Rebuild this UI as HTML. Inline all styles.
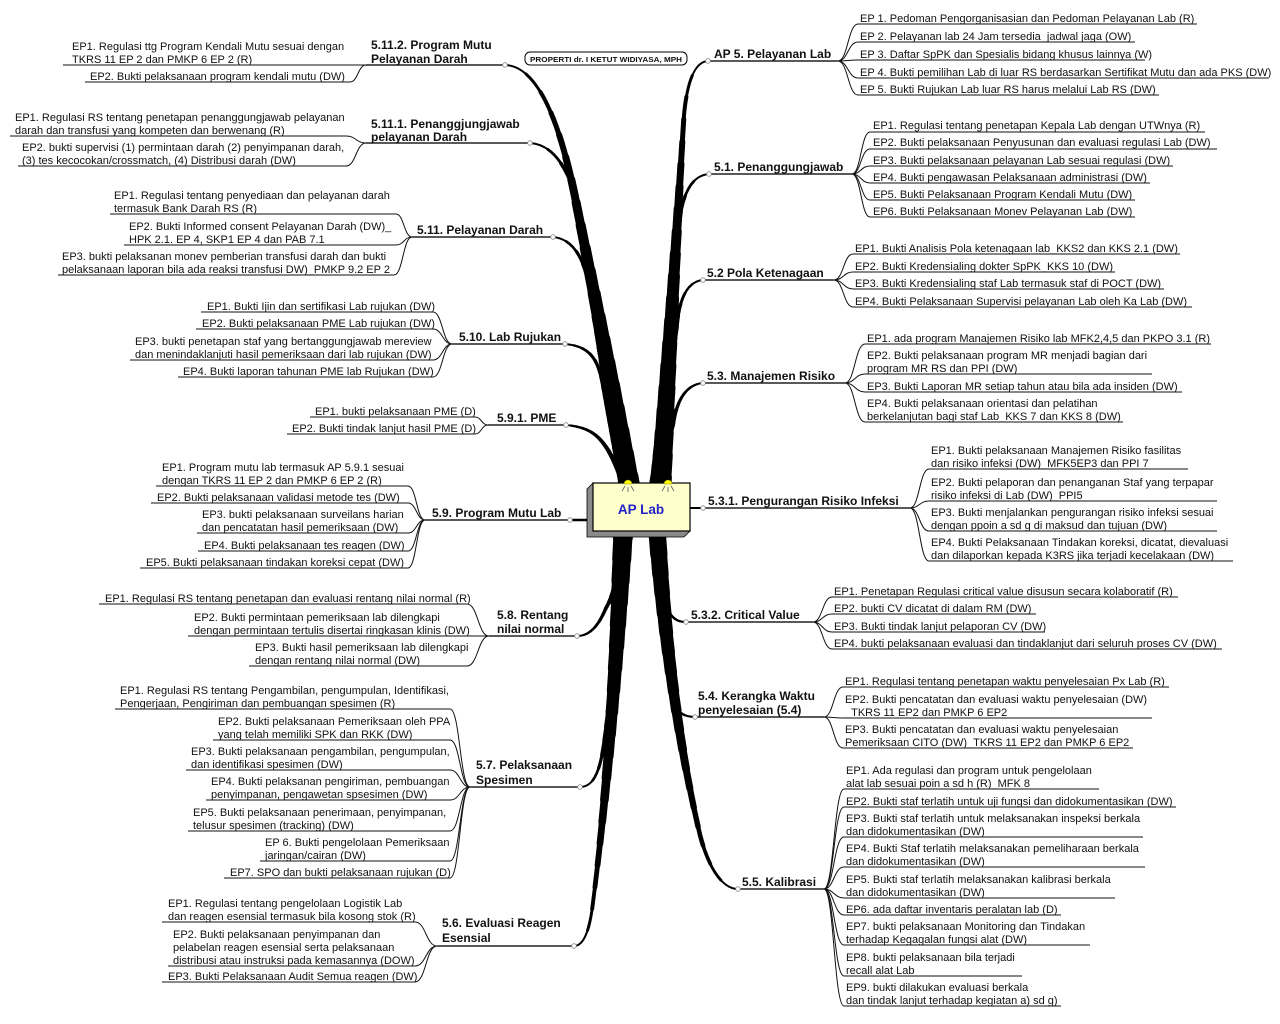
<!DOCTYPE html>
<html><head><meta charset="utf-8">
<style>
html,body{margin:0;padding:0;background:#fff;}
svg{display:block}
.t{font-family:"Liberation Sans",Arial,sans-serif;font-size:11px;fill:#111}
.h{font-family:"Liberation Sans",Arial,sans-serif;font-size:12px;font-weight:bold;fill:#111}
.ln{fill:none;stroke:#111;stroke-width:1}
.tl{fill:none;stroke:#222;stroke-width:1.6}
.nd{fill:#fff;stroke:#888;stroke-width:.8}
.br use{fill:none;stroke:#000;stroke-linecap:round}
.k0{stroke-width:2px}
.k1{stroke-width:calc(2px + (var(--m) - 2) * 0.05px);stroke-dasharray:95 300}
.k2{stroke-width:calc(2px + (var(--m) - 2) * 0.10px);stroke-dasharray:90 300}
.k3{stroke-width:calc(2px + (var(--m) - 2) * 0.15px);stroke-dasharray:85 300}
.k4{stroke-width:calc(2px + (var(--m) - 2) * 0.20px);stroke-dasharray:80 300}
.k5{stroke-width:calc(2px + (var(--m) - 2) * 0.25px);stroke-dasharray:75 300}
.k6{stroke-width:calc(2px + (var(--m) - 2) * 0.30px);stroke-dasharray:70 300}
.k7{stroke-width:calc(2px + (var(--m) - 2) * 0.35px);stroke-dasharray:65 300}
.k8{stroke-width:calc(2px + (var(--m) - 2) * 0.40px);stroke-dasharray:60 300}
.k9{stroke-width:calc(2px + (var(--m) - 2) * 0.45px);stroke-dasharray:55 300}
.k10{stroke-width:calc(2px + (var(--m) - 2) * 0.50px);stroke-dasharray:50 300}
.k11{stroke-width:calc(2px + (var(--m) - 2) * 0.55px);stroke-dasharray:45 300}
.k12{stroke-width:calc(2px + (var(--m) - 2) * 0.60px);stroke-dasharray:40 300}
.k13{stroke-width:calc(2px + (var(--m) - 2) * 0.65px);stroke-dasharray:35 300}
.k14{stroke-width:calc(2px + (var(--m) - 2) * 0.70px);stroke-dasharray:30 300}
.k15{stroke-width:calc(2px + (var(--m) - 2) * 0.75px);stroke-dasharray:25 300}
.k16{stroke-width:calc(2px + (var(--m) - 2) * 0.80px);stroke-dasharray:20 300}
.k17{stroke-width:calc(2px + (var(--m) - 2) * 0.85px);stroke-dasharray:15 300}
.k18{stroke-width:calc(2px + (var(--m) - 2) * 0.90px);stroke-dasharray:10 300}
.k19{stroke-width:calc(2px + (var(--m) - 2) * 0.95px);stroke-dasharray:5 300}
.k20{stroke-width:calc(var(--m) * 1px);stroke-dasharray:2 300}
</style></head>
<body>
<svg width="1280" height="1024" viewBox="0 0 1280 1024" xmlns="http://www.w3.org/2000/svg">
<defs>
<path id="pAP5" pathLength="100" d="M660,500 L684,115 Q689,62 708,61"/>
<path id="p51" pathLength="100" d="M656,500 L679,225 Q684,176 709,174"/>
<path id="p52" pathLength="100" d="M652,500 L677,325 Q681,282 703,280"/>
<path id="p53" pathLength="100" d="M650,500 L673,425 Q679,385 703,383"/>
<path id="p5112" pathLength="100" d="M632,500 Q606,350 577,207 C566,150 545,66 505,65"/>
<path id="p5111" pathLength="100" d="M630,500 Q604,360 581,222 C576,190 562,145 530,143"/>
<path id="p511" pathLength="100" d="M628,500 Q606,380 590,290 C585,262 575,239 553,237"/>
<path id="p510" pathLength="100" d="M626,500 Q612,430 602,380 C597,357 588,346 565,344"/>
<path id="p591" pathLength="100" d="M628,500 Q620,470 608,450 C598,434 588,427 566,425"/>
<path id="p58" pathLength="100" d="M624,515 Q620,585 606,608 C600,622 592,636 577,636"/>
<path id="p57" pathLength="100" d="M622,515 Q616,680 602,755 C598,775 592,787 580,787"/>
<path id="p56" pathLength="100" d="M624,515 Q612,760 592,910 C589,930 584,946 574,946"/>
<path id="p532" pathLength="100" d="M654,515 Q660,590 668,610 C672,618 677,622 686,622"/>
<path id="p54" pathLength="100" d="M655,515 Q662,650 672,700 C676,712 684,717 695,717"/>
<path id="p55" pathLength="100" d="M656,515 Q668,700 700,835 C707,862 720,889 738,889"/>
</defs>

<!-- main branches -->
<g class="br">
<g style="--m:22"><use href="#pAP5" class="k0"/><use href="#pAP5" class="k1"/><use href="#pAP5" class="k2"/><use href="#pAP5" class="k3"/><use href="#pAP5" class="k4"/><use href="#pAP5" class="k5"/><use href="#pAP5" class="k6"/><use href="#pAP5" class="k7"/><use href="#pAP5" class="k8"/><use href="#pAP5" class="k9"/><use href="#pAP5" class="k10"/><use href="#pAP5" class="k11"/><use href="#pAP5" class="k12"/><use href="#pAP5" class="k13"/><use href="#pAP5" class="k14"/><use href="#pAP5" class="k15"/><use href="#pAP5" class="k16"/><use href="#pAP5" class="k17"/><use href="#pAP5" class="k18"/><use href="#pAP5" class="k19"/><use href="#pAP5" class="k20"/></g>
<g style="--m:16"><use href="#p51" class="k0"/><use href="#p51" class="k1"/><use href="#p51" class="k2"/><use href="#p51" class="k3"/><use href="#p51" class="k4"/><use href="#p51" class="k5"/><use href="#p51" class="k6"/><use href="#p51" class="k7"/><use href="#p51" class="k8"/><use href="#p51" class="k9"/><use href="#p51" class="k10"/><use href="#p51" class="k11"/><use href="#p51" class="k12"/><use href="#p51" class="k13"/><use href="#p51" class="k14"/><use href="#p51" class="k15"/><use href="#p51" class="k16"/><use href="#p51" class="k17"/><use href="#p51" class="k18"/><use href="#p51" class="k19"/><use href="#p51" class="k20"/></g>
<g style="--m:11"><use href="#p52" class="k0"/><use href="#p52" class="k1"/><use href="#p52" class="k2"/><use href="#p52" class="k3"/><use href="#p52" class="k4"/><use href="#p52" class="k5"/><use href="#p52" class="k6"/><use href="#p52" class="k7"/><use href="#p52" class="k8"/><use href="#p52" class="k9"/><use href="#p52" class="k10"/><use href="#p52" class="k11"/><use href="#p52" class="k12"/><use href="#p52" class="k13"/><use href="#p52" class="k14"/><use href="#p52" class="k15"/><use href="#p52" class="k16"/><use href="#p52" class="k17"/><use href="#p52" class="k18"/><use href="#p52" class="k19"/><use href="#p52" class="k20"/></g>
<g style="--m:7"><use href="#p53" class="k0"/><use href="#p53" class="k1"/><use href="#p53" class="k2"/><use href="#p53" class="k3"/><use href="#p53" class="k4"/><use href="#p53" class="k5"/><use href="#p53" class="k6"/><use href="#p53" class="k7"/><use href="#p53" class="k8"/><use href="#p53" class="k9"/><use href="#p53" class="k10"/><use href="#p53" class="k11"/><use href="#p53" class="k12"/><use href="#p53" class="k13"/><use href="#p53" class="k14"/><use href="#p53" class="k15"/><use href="#p53" class="k16"/><use href="#p53" class="k17"/><use href="#p53" class="k18"/><use href="#p53" class="k19"/><use href="#p53" class="k20"/></g>
<g style="--m:22"><use href="#p5112" class="k0"/><use href="#p5112" class="k1"/><use href="#p5112" class="k2"/><use href="#p5112" class="k3"/><use href="#p5112" class="k4"/><use href="#p5112" class="k5"/><use href="#p5112" class="k6"/><use href="#p5112" class="k7"/><use href="#p5112" class="k8"/><use href="#p5112" class="k9"/><use href="#p5112" class="k10"/><use href="#p5112" class="k11"/><use href="#p5112" class="k12"/><use href="#p5112" class="k13"/><use href="#p5112" class="k14"/><use href="#p5112" class="k15"/><use href="#p5112" class="k16"/><use href="#p5112" class="k17"/><use href="#p5112" class="k18"/><use href="#p5112" class="k19"/><use href="#p5112" class="k20"/></g>
<g style="--m:18"><use href="#p5111" class="k0"/><use href="#p5111" class="k1"/><use href="#p5111" class="k2"/><use href="#p5111" class="k3"/><use href="#p5111" class="k4"/><use href="#p5111" class="k5"/><use href="#p5111" class="k6"/><use href="#p5111" class="k7"/><use href="#p5111" class="k8"/><use href="#p5111" class="k9"/><use href="#p5111" class="k10"/><use href="#p5111" class="k11"/><use href="#p5111" class="k12"/><use href="#p5111" class="k13"/><use href="#p5111" class="k14"/><use href="#p5111" class="k15"/><use href="#p5111" class="k16"/><use href="#p5111" class="k17"/><use href="#p5111" class="k18"/><use href="#p5111" class="k19"/><use href="#p5111" class="k20"/></g>
<g style="--m:14"><use href="#p511" class="k0"/><use href="#p511" class="k1"/><use href="#p511" class="k2"/><use href="#p511" class="k3"/><use href="#p511" class="k4"/><use href="#p511" class="k5"/><use href="#p511" class="k6"/><use href="#p511" class="k7"/><use href="#p511" class="k8"/><use href="#p511" class="k9"/><use href="#p511" class="k10"/><use href="#p511" class="k11"/><use href="#p511" class="k12"/><use href="#p511" class="k13"/><use href="#p511" class="k14"/><use href="#p511" class="k15"/><use href="#p511" class="k16"/><use href="#p511" class="k17"/><use href="#p511" class="k18"/><use href="#p511" class="k19"/><use href="#p511" class="k20"/></g>
<g style="--m:9"><use href="#p510" class="k0"/><use href="#p510" class="k1"/><use href="#p510" class="k2"/><use href="#p510" class="k3"/><use href="#p510" class="k4"/><use href="#p510" class="k5"/><use href="#p510" class="k6"/><use href="#p510" class="k7"/><use href="#p510" class="k8"/><use href="#p510" class="k9"/><use href="#p510" class="k10"/><use href="#p510" class="k11"/><use href="#p510" class="k12"/><use href="#p510" class="k13"/><use href="#p510" class="k14"/><use href="#p510" class="k15"/><use href="#p510" class="k16"/><use href="#p510" class="k17"/><use href="#p510" class="k18"/><use href="#p510" class="k19"/><use href="#p510" class="k20"/></g>
<g style="--m:6.5"><use href="#p591" class="k0"/><use href="#p591" class="k1"/><use href="#p591" class="k2"/><use href="#p591" class="k3"/><use href="#p591" class="k4"/><use href="#p591" class="k5"/><use href="#p591" class="k6"/><use href="#p591" class="k7"/><use href="#p591" class="k8"/><use href="#p591" class="k9"/><use href="#p591" class="k10"/><use href="#p591" class="k11"/><use href="#p591" class="k12"/><use href="#p591" class="k13"/><use href="#p591" class="k14"/><use href="#p591" class="k15"/><use href="#p591" class="k16"/><use href="#p591" class="k17"/><use href="#p591" class="k18"/><use href="#p591" class="k19"/><use href="#p591" class="k20"/></g>
<g style="--m:7.5"><use href="#p58" class="k0"/><use href="#p58" class="k1"/><use href="#p58" class="k2"/><use href="#p58" class="k3"/><use href="#p58" class="k4"/><use href="#p58" class="k5"/><use href="#p58" class="k6"/><use href="#p58" class="k7"/><use href="#p58" class="k8"/><use href="#p58" class="k9"/><use href="#p58" class="k10"/><use href="#p58" class="k11"/><use href="#p58" class="k12"/><use href="#p58" class="k13"/><use href="#p58" class="k14"/><use href="#p58" class="k15"/><use href="#p58" class="k16"/><use href="#p58" class="k17"/><use href="#p58" class="k18"/><use href="#p58" class="k19"/><use href="#p58" class="k20"/></g>
<g style="--m:14"><use href="#p57" class="k0"/><use href="#p57" class="k1"/><use href="#p57" class="k2"/><use href="#p57" class="k3"/><use href="#p57" class="k4"/><use href="#p57" class="k5"/><use href="#p57" class="k6"/><use href="#p57" class="k7"/><use href="#p57" class="k8"/><use href="#p57" class="k9"/><use href="#p57" class="k10"/><use href="#p57" class="k11"/><use href="#p57" class="k12"/><use href="#p57" class="k13"/><use href="#p57" class="k14"/><use href="#p57" class="k15"/><use href="#p57" class="k16"/><use href="#p57" class="k17"/><use href="#p57" class="k18"/><use href="#p57" class="k19"/><use href="#p57" class="k20"/></g>
<g style="--m:21"><use href="#p56" class="k0"/><use href="#p56" class="k1"/><use href="#p56" class="k2"/><use href="#p56" class="k3"/><use href="#p56" class="k4"/><use href="#p56" class="k5"/><use href="#p56" class="k6"/><use href="#p56" class="k7"/><use href="#p56" class="k8"/><use href="#p56" class="k9"/><use href="#p56" class="k10"/><use href="#p56" class="k11"/><use href="#p56" class="k12"/><use href="#p56" class="k13"/><use href="#p56" class="k14"/><use href="#p56" class="k15"/><use href="#p56" class="k16"/><use href="#p56" class="k17"/><use href="#p56" class="k18"/><use href="#p56" class="k19"/><use href="#p56" class="k20"/></g>
<g style="--m:7"><use href="#p532" class="k0"/><use href="#p532" class="k1"/><use href="#p532" class="k2"/><use href="#p532" class="k3"/><use href="#p532" class="k4"/><use href="#p532" class="k5"/><use href="#p532" class="k6"/><use href="#p532" class="k7"/><use href="#p532" class="k8"/><use href="#p532" class="k9"/><use href="#p532" class="k10"/><use href="#p532" class="k11"/><use href="#p532" class="k12"/><use href="#p532" class="k13"/><use href="#p532" class="k14"/><use href="#p532" class="k15"/><use href="#p532" class="k16"/><use href="#p532" class="k17"/><use href="#p532" class="k18"/><use href="#p532" class="k19"/><use href="#p532" class="k20"/></g>
<g style="--m:11"><use href="#p54" class="k0"/><use href="#p54" class="k1"/><use href="#p54" class="k2"/><use href="#p54" class="k3"/><use href="#p54" class="k4"/><use href="#p54" class="k5"/><use href="#p54" class="k6"/><use href="#p54" class="k7"/><use href="#p54" class="k8"/><use href="#p54" class="k9"/><use href="#p54" class="k10"/><use href="#p54" class="k11"/><use href="#p54" class="k12"/><use href="#p54" class="k13"/><use href="#p54" class="k14"/><use href="#p54" class="k15"/><use href="#p54" class="k16"/><use href="#p54" class="k17"/><use href="#p54" class="k18"/><use href="#p54" class="k19"/><use href="#p54" class="k20"/></g>
<g style="--m:19"><use href="#p55" class="k0"/><use href="#p55" class="k1"/><use href="#p55" class="k2"/><use href="#p55" class="k3"/><use href="#p55" class="k4"/><use href="#p55" class="k5"/><use href="#p55" class="k6"/><use href="#p55" class="k7"/><use href="#p55" class="k8"/><use href="#p55" class="k9"/><use href="#p55" class="k10"/><use href="#p55" class="k11"/><use href="#p55" class="k12"/><use href="#p55" class="k13"/><use href="#p55" class="k14"/><use href="#p55" class="k15"/><use href="#p55" class="k16"/><use href="#p55" class="k17"/><use href="#p55" class="k18"/><use href="#p55" class="k19"/><use href="#p55" class="k20"/></g>
</g>

<!-- direct connectors -->
<path d="M570,520 H590" stroke="#000" stroke-width="2.5"/>
<path d="M688,508 H703" stroke="#000" stroke-width="2"/>

<!-- ============ RIGHT SIDE ============ -->
<!-- AP 5 -->
<path class="tl" d="M708,61 H838"/>
<text class="h" x="714" y="58">AP 5. Pelayanan Lab</text>
<path class="ln" d="M838,61 C848,61 848,24 858,24 H1197"/>
<path class="ln" d="M838,61 C848,61 848,42 858,42 H1135"/>
<path class="ln" d="M838,61 C848,61 848,60 858,60 H1145"/>
<path class="ln" d="M838,61 C848,61 848,78 858,78 H1268"/>
<path class="ln" d="M838,61 C848,61 848,95 858,95 H1159"/>
<text class="t" x="860" y="22">EP 1. Pedoman Pengorganisasian dan Pedoman Pelayanan Lab (R)</text>
<text class="t" x="860" y="40">EP 2. Pelayanan lab 24 Jam tersedia_jadwal jaga (OW)</text>
<text class="t" x="860" y="58">EP 3. Daftar SpPK dan Spesialis bidang khusus lainnya (W)</text>
<text class="t" x="860" y="76">EP 4. Bukti pemilihan Lab di luar RS berdasarkan Sertifikat Mutu dan ada PKS (DW)</text>
<text class="t" x="860" y="93">EP 5. Bukti Rujukan Lab luar RS harus melalui Lab RS (DW)</text>

<!-- 5.1 -->
<path class="tl" d="M709,174 H852"/>
<text class="h" x="714" y="171">5.1. Penanggungjawab</text>
<path class="ln" d="M852,174 C861,174 861,132 870,132 H1205"/>
<path class="ln" d="M852,174 C861,174 861,149 870,149 H1217"/>
<path class="ln" d="M852,174 C861,174 861,166 870,166 H1173"/>
<path class="ln" d="M852,174 C861,174 861,183 870,183 H1150"/>
<path class="ln" d="M852,174 C861,174 861,200 870,200 H1135"/>
<path class="ln" d="M852,174 C861,174 861,217 870,217 H1135"/>
<text class="t" x="873" y="129">EP1. Regulasi tentang penetapan Kepala Lab dengan UTWnya (R)</text>
<text class="t" x="873" y="146">EP2. Bukti pelaksanaan Penyusunan dan evaluasi regulasi Lab (DW)</text>
<text class="t" x="873" y="164">EP3. Bukti pelaksanaan pelayanan Lab sesuai regulasi (DW)</text>
<text class="t" x="873" y="181">EP4. Bukti pengawasan Pelaksanaan administrasi (DW)</text>
<text class="t" x="873" y="198">EP5. Bukti Pelaksanaan Program Kendali Mutu (DW)</text>
<text class="t" x="873" y="215">EP6. Bukti Pelaksanaan Monev Pelayanan Lab (DW)</text>

<!-- 5.2 -->
<path class="tl" d="M703,280 H834"/>
<text class="h" x="707" y="277">5.2 Pola Ketenagaan</text>
<path class="ln" d="M834,280 C843.5,280 843.5,254 853,254 H1180"/>
<path class="ln" d="M834,280 C843.5,280 843.5,272 853,272 H1115"/>
<path class="ln" d="M834,280 C843.5,280 843.5,289 853,289 H1164"/>
<path class="ln" d="M834,280 C843.5,280 843.5,307 853,307 H1192"/>
<text class="t" x="855" y="252">EP1. Bukti Analisis Pola ketenagaan lab_KKS2 dan KKS 2.1 (DW)</text>
<text class="t" x="855" y="270">EP2. Bukti Kredensialing dokter SpPK_KKS 10 (DW)</text>
<text class="t" x="855" y="287">EP3. Bukti Kredensialing staf Lab termasuk staf di POCT (DW)</text>
<text class="t" x="855" y="305">EP4. Bukti Pelaksanaan Supervisi pelayanan Lab oleh Ka Lab (DW)</text>

<!-- 5.3 -->
<path class="tl" d="M703,383 H845"/>
<text class="h" x="707" y="380">5.3. Manajemen Risiko</text>
<path class="ln" d="M845,383 C855,383 855,344 865,344 H1211"/>
<path class="ln" d="M845,383 C855,383 855,374 865,374 H1152"/>
<path class="ln" d="M845,383 C855,383 855,392 865,392 H1182"/>
<path class="ln" d="M845,383 C855,383 855,422 865,422 H1123"/>
<text class="t" x="867" y="342">EP1. ada program Manajemen Risiko lab MFK2,4,5 dan PKPO 3.1 (R)</text>
<text class="t" x="867" y="359">EP2. Bukti pelaksanaan program MR menjadi bagian dari</text>
<text class="t" x="867" y="372">program MR RS dan PPI (DW)</text>
<text class="t" x="867" y="390">EP3. Bukti Laporan MR setiap tahun atau bila ada insiden (DW)</text>
<text class="t" x="867" y="407">EP4. Bukti pelaksanaan orientasi dan pelatihan</text>
<text class="t" x="867" y="420">berkelanjutan bagi staf Lab_KKS 7 dan KKS 8 (DW)</text>

<!-- 5.3.1 -->
<path class="tl" d="M703,508 H910"/>
<text class="h" x="708" y="505">5.3.1. Pengurangan Risiko Infeksi</text>
<path class="ln" d="M910,508 C919.5,508 919.5,469 929,469 H1188"/>
<path class="ln" d="M910,508 C919.5,508 919.5,501 929,501 H1217"/>
<path class="ln" d="M910,508 C919.5,508 919.5,531 929,531 H1217"/>
<path class="ln" d="M910,508 C919.5,508 919.5,561 929,561 H1233"/>
<text class="t" x="931" y="454">EP1. Bukti pelaksanaan Manajemen Risiko fasilitas</text>
<text class="t" x="931" y="467">dan risiko infeksi (DW)_MFK5EP3 dan PPI 7</text>
<text class="t" x="931" y="486">EP2. Bukti pelaporan dan penanganan Staf yang terpapar</text>
<text class="t" x="931" y="499">risiko infeksi di Lab (DW)_PPI5</text>
<text class="t" x="931" y="516">EP3. Bukti menjalankan pengurangan risiko infeksi sesuai</text>
<text class="t" x="931" y="529">dengan ppoin a sd g di maksud dan tujuan (DW)</text>
<text class="t" x="931" y="546">EP4. Bukti Pelaksanaan Tindakan koreksi, dicatat, dievaluasi</text>
<text class="t" x="931" y="559">dan dilaporkan kepada K3RS jika terjadi kecelakaan (DW)</text>

<!-- 5.3.2 -->
<path class="tl" d="M686,622 H813"/>
<text class="h" x="691" y="619">5.3.2. Critical Value</text>
<path class="ln" d="M813,622 C822.5,622 822.5,597 832,597 H1178"/>
<path class="ln" d="M813,622 C822.5,622 822.5,614 832,614 H1036"/>
<path class="ln" d="M813,622 C822.5,622 822.5,632 832,632 H1045"/>
<path class="ln" d="M813,622 C822.5,622 822.5,649 832,649 H1222"/>
<text class="t" x="834" y="595">EP1. Penetapan Regulasi critical value disusun secara kolaboratif (R)</text>
<text class="t" x="834" y="612">EP2. bukti CV dicatat di dalam RM (DW)</text>
<text class="t" x="834" y="630">EP3. Bukti tindak lanjut pelaporan CV (DW)</text>
<text class="t" x="834" y="647">EP4. bukti pelaksanaan evaluasi dan tindaklanjut dari seluruh proses CV (DW)</text>

<!-- 5.4 -->
<path class="tl" d="M695,717 H824"/>
<text class="h" x="698" y="700">5.4. Kerangka Waktu</text>
<text class="h" x="698" y="714">penyelesaian (5.4)</text>
<path class="ln" d="M824,717 C833.5,717 833.5,687 843,687 H1169"/>
<path class="ln" d="M824,717 C833.5,717 833.5,718 843,718 H1152"/>
<path class="ln" d="M824,717 C833.5,717 833.5,748 843,748 H1133"/>
<text class="t" x="845" y="685">EP1. Regulasi tentang penetapan waktu penyelesaian Px Lab (R)</text>
<text class="t" x="845" y="703">EP2. Bukti pencatatan dan evaluasi waktu penyelesaian (DW)</text>
<text class="t" x="845" y="716">_TKRS 11 EP2 dan PMKP 6 EP2</text>
<text class="t" x="845" y="733">EP3. Bukti pencatatan dan evaluasi waktu penyelesaian</text>
<text class="t" x="845" y="746">Pemeriksaan CITO (DW)_TKRS 11 EP2 dan PMKP 6 EP2</text>

<!-- 5.5 -->
<path class="tl" d="M738,889 H824"/>
<text class="h" x="742" y="886">5.5. Kalibrasi</text>
<path class="ln" d="M824,889 C834,889 834,789 844,789 H1099"/>
<path class="ln" d="M824,889 C834,889 834,807 844,807 H1176"/>
<path class="ln" d="M824,889 C834,889 834,837 844,837 H1143"/>
<path class="ln" d="M824,889 C834,889 834,867 844,867 H1145"/>
<path class="ln" d="M824,889 C834,889 834,898 844,898 H1115"/>
<path class="ln" d="M824,889 C834,889 834,915 844,915 H1061"/>
<path class="ln" d="M824,889 C834,889 834,945 844,945 H1090"/>
<path class="ln" d="M824,889 C834,889 834,976 844,976 H1022"/>
<path class="ln" d="M824,889 C834,889 834,1006 844,1006 H1061"/>
<text class="t" x="846" y="774">EP1. Ada regulasi dan program untuk pengelolaan</text>
<text class="t" x="846" y="787">alat lab sesuai poin a sd h (R)_MFK 8</text>
<text class="t" x="846" y="805">EP2. Bukti staf terlatih untuk uji fungsi dan didokumentasikan (DW)</text>
<text class="t" x="846" y="822">EP3. Bukti staf terlatih untuk melaksanakan inspeksi berkala</text>
<text class="t" x="846" y="835">dan didokumentasikan (DW)</text>
<text class="t" x="846" y="852">EP4. Bukti Staf terlatih melaksanakan pemeliharaan berkala</text>
<text class="t" x="846" y="865">dan didokumentasikan (DW)</text>
<text class="t" x="846" y="883">EP5. Bukti staf terlatih melaksanakan kalibrasi berkala</text>
<text class="t" x="846" y="896">dan didokumentasikan (DW)</text>
<text class="t" x="846" y="913">EP6. ada daftar inventaris peralatan lab (D)</text>
<text class="t" x="846" y="930">EP7. bukti pelaksanaan Monitoring dan Tindakan</text>
<text class="t" x="846" y="943">terhadap Kegagalan fungsi alat (DW)</text>
<text class="t" x="846" y="961">EP8. bukti pelaksanaan bila terjadi</text>
<text class="t" x="846" y="974">recall alat Lab</text>
<text class="t" x="846" y="991">EP9. bukti dilakukan evaluasi berkala</text>
<text class="t" x="846" y="1004">dan tindak lanjut terhadap kegiatan a) sd g)</text>

<!-- ============ LEFT SIDE ============ -->
<!-- 5.11.2 -->
<path class="tl" d="M366,65 H505"/>
<text class="h" x="371" y="49">5.11.2. Program Mutu</text>
<text class="h" x="371" y="63">Pelayanan Darah</text>
<path class="ln" d="M63,65 H366"/>
<path class="ln" d="M85,82 H350 C358,82 358,65 366,65"/>
<text class="t" x="72" y="50">EP1. Regulasi ttg Program Kendali Mutu sesuai dengan</text>
<text class="t" x="72" y="63">TKRS 11 EP 2 dan PMKP 6 EP 2 (R)</text>
<text class="t" x="90" y="80">EP2. Bukti pelaksanaan program kendali mutu (DW)</text>

<!-- 5.11.1 -->
<path class="tl" d="M366,143 H530"/>
<text class="h" x="371" y="128">5.11.1. Penanggjungjawab</text>
<text class="h" x="371" y="141">pelayanan Darah</text>
<path class="ln" d="M10,136 H346 C356,136 356,143 366,143"/>
<path class="ln" d="M18,166 H346 C356,166 356,143 366,143"/>
<text class="t" x="15" y="121">EP1. Regulasi RS tentang penetapan penanggungjawab pelayanan</text>
<text class="t" x="15" y="134">darah dan transfusi yang kompeten dan berwenang (R)</text>
<text class="t" x="22" y="151">EP2. bukti supervisi (1) permintaan darah (2) penyimpanan darah,</text>
<text class="t" x="22" y="164">(3) tes kecocokan/crossmatch, (4) Distribusi darah (DW)</text>

<!-- 5.11 -->
<path class="tl" d="M412,237 H553"/>
<text class="h" x="417" y="234">5.11. Pelayanan Darah</text>
<path class="ln" d="M110,214 H396 C404,214 404,237 412,237"/>
<path class="ln" d="M124,245 H396 C404,245 404,237 412,237"/>
<path class="ln" d="M58,275 H394 C403,275 403,237 412,237"/>
<text class="t" x="114" y="199">EP1. Regulasi tentang penyediaan dan pelayanan darah</text>
<text class="t" x="114" y="212">termasuk Bank Darah RS (R)</text>
<text class="t" x="129" y="230">EP2. Bukti Informed consent Pelayanan Darah (DW)_</text>
<text class="t" x="129" y="243">HPK 2.1. EP 4, SKP1 EP 4 dan PAB 7.1</text>
<text class="t" x="62" y="260">EP3. bukti pelaksanan monev pemberian transfusi darah dan bukti</text>
<text class="t" x="62" y="273">pelaksanaan laporan bila ada reaksi transfusi DW)_PMKP 9.2 EP 2</text>

<!-- 5.10 -->
<path class="tl" d="M452,344 H565"/>
<text class="h" x="459" y="341">5.10. Lab Rujukan</text>
<path class="ln" d="M201,312 H433 C442.5,312 442.5,344 452,344"/>
<path class="ln" d="M196,329 H433 C442.5,329 442.5,344 452,344"/>
<path class="ln" d="M130,360 H433 C442.5,360 442.5,344 452,344"/>
<path class="ln" d="M178,377 H433 C442.5,377 442.5,344 452,344"/>
<text class="t" x="207" y="310">EP1. Bukti Ijin dan sertifikasi Lab rujukan (DW)</text>
<text class="t" x="202" y="327">EP2. Bukti pelaksanaan PME Lab rujukan (DW)</text>
<text class="t" x="135" y="345">EP3. bukti penetapan staf yang bertanggungjawab mereview</text>
<text class="t" x="135" y="358">dan menindaklanjuti hasil pemeriksaan dari lab rujukan (DW)</text>
<text class="t" x="183" y="375">EP4. Bukti laporan tahunan PME lab Rujukan (DW)</text>

<!-- 5.9.1 -->
<path class="tl" d="M488,425 H566"/>
<text class="h" x="497" y="422">5.9.1. PME</text>
<path class="ln" d="M310,417 H475 C481.5,417 481.5,425 488,425"/>
<path class="ln" d="M287,434 H475 C481.5,434 481.5,425 488,425"/>
<text class="t" x="315" y="415">EP1. bukti pelaksanaan PME (D)</text>
<text class="t" x="292" y="432">EP2. Bukti tindak lanjut hasil PME (D)</text>

<!-- 5.9 -->
<path class="tl" d="M425,520 H570"/>
<text class="h" x="432" y="517">5.9. Program Mutu Lab</text>
<path class="ln" d="M156,486 H408 C416.5,486 416.5,520 425,520"/>
<path class="ln" d="M151,503 H408 C416.5,503 416.5,520 425,520"/>
<path class="ln" d="M197,533 H408 C416.5,533 416.5,520 425,520"/>
<path class="ln" d="M198,551 H408 C416.5,551 416.5,520 425,520"/>
<path class="ln" d="M140,568 H408 C416.5,568 416.5,520 425,520"/>
<text class="t" x="162" y="471">EP1. Program mutu lab termasuk AP 5.9.1 sesuai</text>
<text class="t" x="162" y="484">dengan TKRS 11 EP 2 dan PMKP 6 EP 2 (R)</text>
<text class="t" x="157" y="501">EP2. Bukti pelaksanaan validasi metode tes (DW)</text>
<text class="t" x="202" y="518">EP3. bukti pelaksanaan surveilans harian</text>
<text class="t" x="202" y="531">dan pencatatan hasil pemeriksaan (DW)</text>
<text class="t" x="204" y="549">EP4. Bukti pelaksanaan tes reagen (DW)</text>
<text class="t" x="146" y="566">EP5. Bukti pelaksanaan tindakan koreksi cepat (DW)</text>

<!-- 5.8 -->
<path class="tl" d="M489,636 H577"/>
<text class="h" x="497" y="619">5.8. Rentang</text>
<text class="h" x="497" y="633">nilai normal</text>
<path class="ln" d="M99,604 H467 C478,604 478,636 489,636"/>
<path class="ln" d="M188,636 H489"/>
<path class="ln" d="M249,666 H467 C478,666 478,636 489,636"/>
<text class="t" x="105" y="602">EP1. Regulasi RS tentang penetapan dan evaluasi rentang nilai normal (R)</text>
<text class="t" x="194" y="621">EP2. Bukti permintaan pemeriksaan lab dilengkapi</text>
<text class="t" x="194" y="634">dengan permintaan tertulis disertai ringkasan klinis (DW)</text>
<text class="t" x="255" y="651">EP3. Bukti hasil pemeriksaan lab dilengkapi</text>
<text class="t" x="255" y="664">dengan rentang nilai normal (DW)</text>

<!-- 5.7 -->
<path class="tl" d="M470,787 H580"/>
<text class="h" x="476" y="769">5.7. Pelaksanaan</text>
<text class="h" x="476" y="784">Spesimen</text>
<path class="ln" d="M115,709 H450 C460,709 460,787 470,787"/>
<path class="ln" d="M213,740 H450 C460,740 460,787 470,787"/>
<path class="ln" d="M186,770 H450 C460,770 460,787 470,787"/>
<path class="ln" d="M206,800 H450 C460,800 460,787 470,787"/>
<path class="ln" d="M188,831 H450 C460,831 460,787 470,787"/>
<path class="ln" d="M260,861 H450 C460,861 460,787 470,787"/>
<path class="ln" d="M224,878 H450 C460,878 460,787 470,787"/>
<text class="t" x="120" y="694">EP1. Regulasi RS tentang Pengambilan, pengumpulan, Identifikasi,</text>
<text class="t" x="120" y="707">Pengerjaan, Pengiriman dan pembuangan spesimen (R)</text>
<text class="t" x="218" y="725">EP2. Bukti pelaksanaan Pemeriksaan oleh PPA</text>
<text class="t" x="218" y="738">yang telah memiliki SPK dan RKK (DW)</text>
<text class="t" x="191" y="755">EP3. Bukti pelaksanaan pengambilan, pengumpulan,</text>
<text class="t" x="191" y="768">dan identifikasi spesimen (DW)</text>
<text class="t" x="211" y="785">EP4. Bukti pelaksanan pengiriman, pembuangan</text>
<text class="t" x="211" y="798">penyimpanan, pengawetan spsesimen (DW)</text>
<text class="t" x="193" y="816">EP5. Bukti pelaksanaan penerimaan, penyimpanan,</text>
<text class="t" x="193" y="829">telusur spesimen (tracking) (DW)</text>
<text class="t" x="265" y="846">EP 6. Bukti pengelolaan Pemeriksaan</text>
<text class="t" x="265" y="859">jaringan/cairan (DW)</text>
<text class="t" x="230" y="876">EP7. SPO dan bukti pelaksanaan rujukan (D)</text>

<!-- 5.6 -->
<path class="tl" d="M437,946 H574"/>
<text class="h" x="442" y="927">5.6. Evaluasi Reagen</text>
<text class="h" x="442" y="942">Esensial</text>
<path class="ln" d="M162,922 H415 C426,922 426,946 437,946"/>
<path class="ln" d="M168,966 H415 C426,966 426,946 437,946"/>
<path class="ln" d="M162,982 H415 C426,982 426,946 437,946"/>
<text class="t" x="168" y="907">EP1. Regulasi tentang pengelolaan Logistik Lab</text>
<text class="t" x="168" y="920">dan reagen esensial termasuk bila kosong stok (R)</text>
<text class="t" x="173" y="938">EP2. Bukti pelaksanaan penyimpanan dan</text>
<text class="t" x="173" y="951">pelabelan reagen esensial serta pelaksanaan</text>
<text class="t" x="173" y="964">distribusi atau instruksi pada kemasannya (DOW)</text>
<text class="t" x="168" y="980">EP3. Bukti Pelaksanaan Audit Semua reagen (DW)</text>

<!-- node circles -->
<g class="nd">
<circle cx="708" cy="61" r="2.3"/><circle cx="709" cy="174" r="2.3"/><circle cx="703" cy="280" r="2.3"/>
<circle cx="703" cy="383" r="2.3"/><circle cx="703" cy="508" r="2.3"/><circle cx="686" cy="622" r="2.3"/>
<circle cx="695" cy="717" r="2.3"/><circle cx="738" cy="889" r="2.3"/>
<circle cx="505" cy="65" r="2.3"/><circle cx="530" cy="143" r="2.3"/><circle cx="553" cy="237" r="2.3"/>
<circle cx="565" cy="344" r="2.3"/><circle cx="566" cy="425" r="2.3"/><circle cx="570" cy="520" r="2.3"/>
<circle cx="577" cy="636" r="2.3"/><circle cx="580" cy="787" r="2.3"/><circle cx="574" cy="946" r="2.3"/>
</g>

<!-- PROPERTI label -->
<rect x="525" y="52" width="162" height="13" rx="5" fill="#fff" stroke="#000" stroke-width="1"/>
<text x="530" y="62" textLength="152" lengthAdjust="spacingAndGlyphs" style="font-family:'Liberation Sans',Arial,sans-serif;font-size:7.5px;font-weight:bold;fill:#111">PROPERTI dr. I KETUT WIDIYASA, MPH</text>

<!-- central box -->
<polygon points="593,483 587,489 587,537 684,537 690,531 593,531" fill="#8a8a8a" stroke="#000" stroke-width="0.8"/>
<rect x="593" y="483" width="97" height="48" fill="#ffffcc" stroke="#000" stroke-width="1.2"/>
<text x="641" y="514" text-anchor="middle" style="font-family:'Liberation Sans',Arial,sans-serif;font-size:13.5px;font-weight:bold;fill:#2323c8">AP Lab</text>
<g stroke="#555" stroke-width="0.8">
<path d="M624,484 A4,4 0 0 1 632,484 Z" fill="#ffff00" stroke="#888800" stroke-width="0.6"/>
<line x1="625" y1="486" x2="622" y2="491"/><line x1="628" y1="487" x2="628" y2="492"/><line x1="631" y1="486" x2="634" y2="491"/>
<path d="M664,484 A4,4 0 0 1 672,484 Z" fill="#ffff00" stroke="#888800" stroke-width="0.6"/>
<line x1="665" y1="486" x2="662" y2="491"/><line x1="668" y1="487" x2="668" y2="492"/><line x1="671" y1="486" x2="674" y2="491"/>
</g>
</svg>
</body></html>
